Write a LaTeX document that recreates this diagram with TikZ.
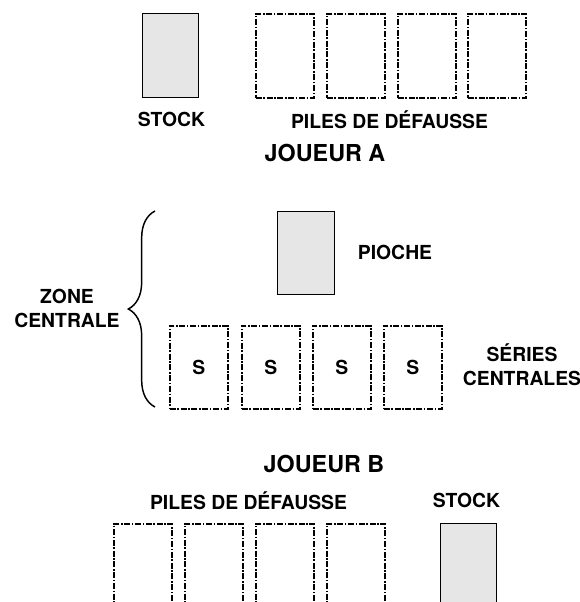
\documentclass[tikz,border=0pt]{standalone}
\usepackage{fontspec}
\setmainfont{TeX Gyre Heros}
\usetikzlibrary{decorations.pathreplacing}
\definecolor{cardgray}{RGB}{230,230,230}

\tikzset{every picture/.style={line width=0.75pt}}
\tikzset{
  stockpile/.style={draw, fill=cardgray, line width=1.1pt, inner sep=0pt, minimum width=42pt, minimum height=63pt, anchor=north west},
  discardpile/.style={draw, line width=1.2pt, dash pattern=on 4.5pt off 1.2pt on 1.2pt off 1.2pt, inner sep=0pt, minimum width=43.5pt, minimum height=63pt, anchor=north west},
  txt/.style={font=\fontsize{14.5}{18}\selectfont\bfseries, inner sep=0.75pt, align=center},
  titre/.style={font=\fontsize{17.5}{20}\selectfont\bfseries, inner sep=0.75pt}
}

\begin{document}
\begin{tikzpicture}[x=0.75pt,y=0.75pt,yscale=-1,xscale=1]
    \useasboundingbox (0,0) rectangle (580,602);

    %Shape: Rectangle [Joueur A stock]
    \node [stockpile] (stockA) at (142,13) {};
    %Shape: Rectangle [Joueur A defausse]
    \node [discardpile] (defA1) at (255,13) {};
    \node [discardpile] (defA2) at (326,13) {};
    \node [discardpile] (defA3) at (397,13) {};
    \node [discardpile] (defA4) at (467,13) {};

    % Text Node
    \node [txt] (stockAtxt) at (171.5,119.5) {STOCK};
    % Text Node
    \node [txt] (defAtxt) at (389.5,119.5) {PILES DE DÉFAUSSE};
    % Text Node
    \node [titre] (joueurA) at (325,152.5) {JOUEUR A};

    %Shape: Rectangle [pioche]
    \node [stockpile, minimum width=42.75pt, minimum height=62.25pt] (pioche) at (277,211) {};
    % Text Node
    \node [txt] (piochetxt) at (395,252) {PIOCHE};

    %Shape: Rectangle [series centrales]
    \node [discardpile, minimum height=62.25pt] (serie1) at (169,325) {};
    \node [discardpile, minimum height=62.25pt] (serie2) at (241,325) {};
    \node [discardpile, minimum height=62.25pt] (serie3) at (312,325) {};
    \node [discardpile, minimum height=62.25pt] (serie4) at (383,325) {};
    \foreach \s in {1,...,4}
      \node [txt] at (serie\s.center) {S};
    % Text Node
    \node [txt] (seriestxt) at (522,364.5) {SÉRIES\\CENTRALES};

    %Brace [zone centrale]
    \coordinate (zonebas) at (155,407);
    \coordinate (zonehaut) at (155,211);
    \draw [decorate, decoration={brace, amplitude=20pt}, line width=1.1pt] (zonebas) -- (zonehaut);
    % Text Node
    \node [txt] (zonetxt) at (67,308) {ZONE\\CENTRALE};

    % Text Node
    \node [titre] (joueurB) at (324,464) {JOUEUR B};
    % Text Node
    \node [txt] (defBtxt) at (248.5,500.5) {PILES DE DÉFAUSSE};
    % Text Node
    \node [txt] (stockBtxt) at (466.5,500.5) {STOCK};

    %Shape: Rectangle [Joueur B defausse]
    \node [discardpile] (defB1) at (113,523) {};
    \node [discardpile] (defB2) at (184,523) {};
    \node [discardpile] (defB3) at (255,523) {};
    \node [discardpile] (defB4) at (326,523) {};
    %Shape: Rectangle [Joueur B stock]
    \node [stockpile] (stockB) at (440,523) {};

\end{tikzpicture}
\end{document}
